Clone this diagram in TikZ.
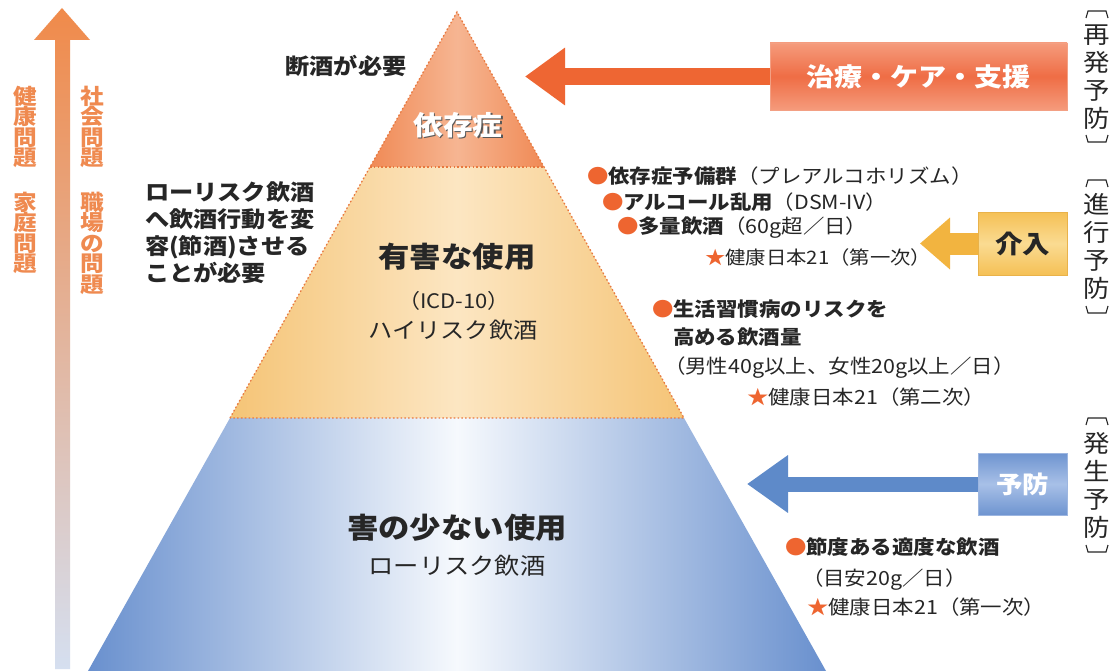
\documentclass[tikz,border=0pt]{standalone}
\usepackage{fontspec}
\setmainfont{Noto Sans CJK JP}[FakeStretch=1.1]
\usetikzlibrary{arrows.meta}
\definecolor{txt}{HTML}{262626}
\definecolor{lor}{HTML}{EF8A50}
\definecolor{lorTop}{HTML}{F08A4A}
\definecolor{lorMid}{HTML}{ECB7A4}
\definecolor{lorBot}{HTML}{D5DFF0}
\definecolor{topO}{HTML}{F08A55}
\definecolor{topOl}{HTML}{F6B592}
\definecolor{midO}{HTML}{F5C476}
\definecolor{midOl}{HTML}{FCE6C2}
\definecolor{botB}{HTML}{6990CE}
\definecolor{botBl}{HTML}{F6F9FD}
\definecolor{dotc}{HTML}{E8783E}
\definecolor{bulc}{HTML}{EE6530}
\definecolor{arrO}{HTML}{EE6633}
\definecolor{careM}{HTML}{EF6D45}
\definecolor{careL}{HTML}{F59B7C}
\definecolor{careB}{HTML}{F3A084}
\definecolor{yArr}{HTML}{F2B440}
\definecolor{kaiM}{HTML}{F5C055}
\definecolor{kaiL}{HTML}{FADB92}
\definecolor{kaiB}{HTML}{E9B24A}
\definecolor{bArr}{HTML}{5E8AC9}
\definecolor{yoM}{HTML}{6E94D0}
\definecolor{yoL}{HTML}{A8C0E7}
\definecolor{yoB}{HTML}{9DB6E0}
\newcommand\bulmark{\textcolor{bulc}{●}}
\newcommand\starmark{\textcolor{bulc}{★}}
\newcommand\tightlns{\lineskiplimit=-20pt\relax\lineskip=0pt\relax}
\newcommand\vbrk[3]{%
  \draw[brk] (#1-11,#2+7) -- (#1-9,#2) -- (#1+9,#2) -- (#1+11,#2+7);
  \draw[brk] (#1-11,#3-7) -- (#1-9,#3) -- (#1+9,#3) -- (#1+11,#3-7);}
\begin{document}
\begin{tikzpicture}[x=1pt,y=-1pt,
  lbl/.style={inner sep=0pt, outer sep=0pt, text=txt},
  vlbl/.style={lbl, align=center, font=\fontsize{24}{28}\selectfont},
  sidelbl/.style={inner sep=0pt, outer sep=0pt, text=lor, align=center, anchor=north,
    font=\bfseries\fontsize{21.5}{20.5}\selectfont\tightlns},
  rt/.style={lbl, anchor=west, font=\fontsize{19.5}{22}\selectfont},
  rts/.style={rt, font=\fontsize{18.5}{22}\selectfont},
  brk/.style={draw=txt, line width=1.1pt},
  pyrdot/.style={draw=dotc, line width=1.3pt, dash pattern=on 1.6pt off 2.2pt},
  carebox/.style={draw=careB, line width=0.8pt, top color=careL, bottom color=careL, middle color=careM,
    minimum width=297pt, minimum height=67pt, inner sep=0pt, text=white, font=\bfseries\fontsize{25.5}{25.5}\selectfont},
  kaibox/.style={draw=kaiB, line width=0.8pt, top color=kaiM, bottom color=kaiM, middle color=kaiL,
    minimum width=89pt, minimum height=63pt, inner sep=0pt, text=txt, font=\bfseries\fontsize{25}{25}\selectfont},
  yobox/.style={draw=yoB, line width=0.8pt, top color=yoM, bottom color=yoM, middle color=yoL,
    minimum width=89pt, minimum height=62pt, inner sep=0pt, text=white, font=\bfseries\fontsize{24}{24}\selectfont},
  blockarrow/.style={line cap=butt}
]
\useasboundingbox (0,0) rectangle (1118,671);
\fill[white] (0,0) rectangle (1118,671);

% left vertical arrow
\shade[top color=lorTop, middle color=lorMid, bottom color=lorBot]
  (55,40) -- (34,40) -- (62,8) -- (90,40) -- (70,40) -- (70,669) -- (55,669) -- cycle;
\node[sidelbl] (k1) at (25,86) {健\\康\\問\\題};
\node[sidelbl] (k2) at (25,192) {家\\庭\\問\\題};
\node[sidelbl] (s1) at (92,86) {社\\会\\問\\題};
\node[sidelbl] (s2) at (92,192) {職\\場\\の\\問\\題};

% pyramid
\coordinate (A) at (457,12);
\coordinate (L1) at (370,167);
\coordinate (R1) at (544,167);
\coordinate (L2) at (230,418);
\coordinate (R2) at (684,418);
\coordinate (L3) at (88,671);
\coordinate (R3) at (826,671);
\shade[left color=topO, right color=topO, middle color=topOl] (A) -- (L1) -- (R1) -- cycle;
\shade[left color=midO, right color=midO, middle color=midOl] (L1) -- (L2) -- (R2) -- (R1) -- cycle;
\shade[left color=botB, right color=botB, middle color=botBl] (L2) -- (L3) -- (R3) -- (R2) -- cycle;
\draw[pyrdot] (L2) -- (L1) -- (A) -- (R1) -- (R2) -- cycle;
\draw[pyrdot] (L1) -- (R1);

% pyramid texts
\node[lbl, text=black!65, font=\bfseries\fontsize{27}{27}\selectfont] (izs) at (459.5,126.5) {依存症};
\node[lbl, text=white, font=\bfseries\fontsize{27}{27}\selectfont] (iz) at (458,125) {依存症};
\node[lbl, font=\bfseries\fontsize{28.5}{28.5}\selectfont] (yugai) at (457,257) {有害な使用};
\node[lbl, font=\fontsize{20}{20}\selectfont] (icd) at (454,301) {（ICD-10）};
\node[lbl, font=\fontsize{22}{22}\selectfont] (high) at (453,330) {ハイリスク飲酒};
\node[lbl, font=\bfseries\fontsize{28.5}{28.5}\selectfont] (gai) at (457,528) {害の少ない使用};
\node[lbl, font=\fontsize{23}{23}\selectfont] (low) at (457,566) {ローリスク飲酒};

% left texts
\node[lbl, font=\bfseries\fontsize{22}{22}\selectfont] (danshu) at (346,66) {断酒が必要};
\node[lbl, anchor=north west, align=left, font=\bfseries\fontsize{22}{27}\selectfont] (lowtxt) at (145,182)
  {ローリスク飲酒\\へ飲酒行動を変\\容(節酒)させる\\ことが必要};

% right boxes and arrows
\node[carebox] (care) at (918.5,76.5) {治療・ケア・支援};
\coordinate (tip1) at (525,76.5);
\draw[blockarrow, draw=arrO, line width=17pt, -{Triangle[length=40pt,width=55pt]}] (care.west) -- (tip1);
\node[kaibox] (kai) at (1022.5,243.5) {介入};
\coordinate (tip2) at (920,243.5);
\draw[blockarrow, draw=yArr, line width=22pt, -{Triangle[length=30pt,width=50pt]}] (kai.west) -- (tip2);
\node[yobox] (yobo) at (1022.5,484) {予防};
\coordinate (tip3) at (747,484);
\draw[blockarrow, draw=bArr, line width=15pt, -{Triangle[length=41pt,width=55pt]}] (yobo.west) -- (tip3);

% right list texts
\node[rt] (r1) at (587,176) {\bulmark\textbf{依存症予備群}（プレアルコホリズム）};
\node[rt] (r2) at (602,202) {\bulmark\textbf{アルコール乱用}（DSM-IV）};
\node[rt] (r3) at (617,228) {\bulmark\textbf{多量飲酒}（60g超／日）};
\node[rts] (r4) at (705,257) {\starmark 健康日本21（第一次）};
\node[rt] (r5) at (652,309) {\bulmark\textbf{生活習慣病のリスクを}};
\node[rt] (r6) at (673,337) {\textbf{高める飲酒量}};
\node[rt] (r7) at (664,368) {（男性40g以上、女性20g以上／日）};
\node[rt] (r8) at (747,397) {\starmark 健康日本21（第二次）};
\node[rt] (r9) at (785,547) {\bulmark\textbf{節度ある適度な飲酒}};
\node[rt] (r10) at (802,580) {（目安20g／日）};
\node[rt] (r11) at (807,607) {\starmark 健康日本21（第一次）};

% right vertical labels
\node[vlbl] (v1) at (1097,77) {再\\発\\予\\防};
\vbrk{1097}{11}{142}
\node[vlbl] (v2) at (1097,246.5) {進\\行\\予\\防};
\vbrk{1097}{180}{313}
\node[vlbl] (v3) at (1097,485) {発\\生\\予\\防};
\vbrk{1097}{418}{552}
\end{tikzpicture}
\end{document}
